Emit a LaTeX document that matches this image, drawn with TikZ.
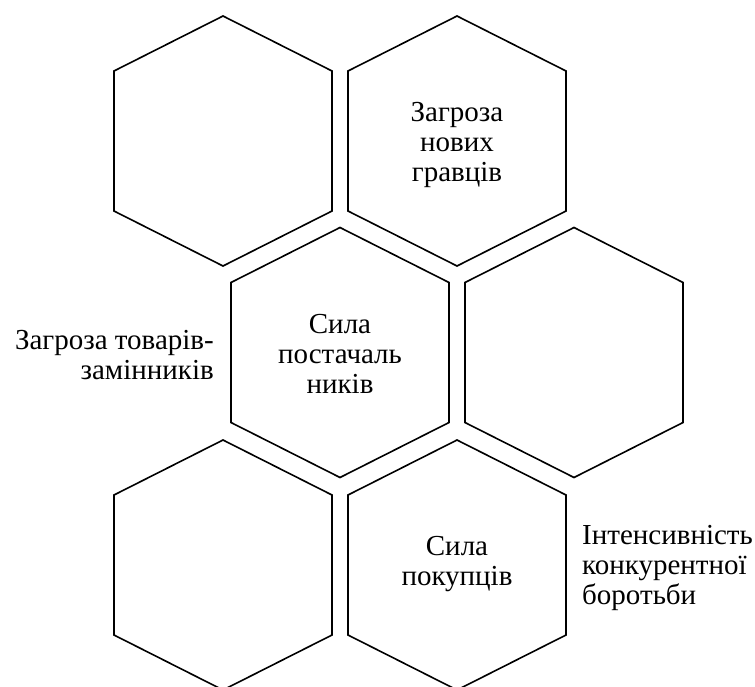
\documentclass[tikz,border=0pt]{standalone}
\usepackage{fontspec}
\setmainfont{Liberation Serif}
\usepackage{tikz}

\tikzset{
	hexline/.style={draw=black, line width=1.6pt, line join=miter},
	hextext/.style={align=center, inner sep=0pt, font=\fontsize{29}{30}\selectfont},
	sidetext/.style={inner sep=0pt, font=\fontsize{29}{30}\selectfont}
}

\begin{document}
\begin{tikzpicture}[x=1pt, y=-1pt]
				\useasboundingbox (0,0) rectangle (755,686);
				
				% Draw the honeycomb of six cells
				\foreach \cx/\cy in {223/141, 457/141, 340/352.5, 574/352.5, 223/565, 457/565}
					\draw[hexline, shift={(\cx,\cy)}] (0,-125) -- (109,-70) -- (109,70) -- (0,125) -- (-109,70) -- (-109,-70) -- cycle;
				
				% Labels inside the cells
				\node[hextext] (newplayers) at (457,145) {Загроза\\нових\\гравців};
				\node[hextext] (suppliers) at (340,354) {Сила\\постачаль\\ників};
				\node[hextext] (buyers) at (457,564) {Сила\\покупців};
				
				% Labels beside the cells
				\node[sidetext, align=right, anchor=east] (substitutes) at (214,355) {Загроза товарів-\\замінників};
				\node[sidetext, align=left, anchor=west] (rivalry) at (582,568) {Інтенсивність\\конкурентної\\боротьби};
			\end{tikzpicture}
\end{document}
